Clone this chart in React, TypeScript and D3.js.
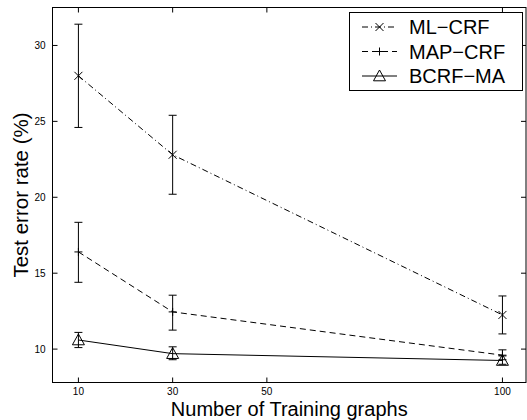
import React from 'react';
import * as d3 from 'd3';

// training set sizes
const trainSizes = [10, 30, 100];
const xTicks = [10, 30, 50, 100];
const yTicks = [10, 15, 20, 25, 30];

const seriesNames = ['ML\u2212CRF', 'MAP\u2212CRF', 'BCRF\u2212MA'];
const mlMean = [28.0, 22.8, 12.25];
const mlLow = [24.6, 20.2, 11.0];
const mlHigh = [31.4, 25.4, 13.5];
const mapMean = [16.4, 12.45, 9.6];
const mapLow = [14.4, 11.25, 9.3];
const mapHigh = [18.35, 13.55, 9.95];
const bcrfMean = [10.6, 9.7, 9.25];
const bcrfLow = [10.1, 9.3, 9.0];
const bcrfHigh = [11.1, 10.15, 9.55];

const FONT = '"Liberation Sans", Arial, Helvetica, sans-serif';

const Marker = ({kind, x, y}: {kind: string; x: number; y: number}) => {
    const s = 4;
    if (kind === 'x') {
        return <path d={`M${x-s},${y-s}L${x+s},${y+s}M${x-s},${y+s}L${x+s},${y-s}`} stroke="black" fill="none"/>;
    }
    if (kind === '+') {
        return <path d={`M${x-s},${y}L${x+s},${y}M${x},${y-s}L${x},${y+s}`} stroke="black" fill="none"/>;
    }
    const t = 6;
    return <path d={`M${x},${y-t}L${x+t},${y+t*0.8}L${x-t},${y+t*0.8}Z`} stroke="black" fill="none"/>;
};

const App = () => {
    const width = 527;
    const height = 420;
    const left = 52.5, right = 526, top = 7.5, bottom = 382.5;

    const x = d3.scaleLinear().domain([4.5, 105]).range([left, right]);
    const y = d3.scaleLinear().domain([7.8, 32.5]).range([bottom, top]);

    const series = [
        {name: seriesNames[0], mean: mlMean, low: mlLow, high: mlHigh, dash: '6,3,1,3', marker: 'x'},
        {name: seriesNames[1], mean: mapMean, low: mapLow, high: mapHigh, dash: '6,4', marker: '+'},
        {name: seriesNames[2], mean: bcrfMean, low: bcrfLow, high: bcrfHigh, dash: 'none', marker: '^'}
    ];

    const line = d3.line<number>()
        .x((d, i) => x(trainSizes[i]))
        .y(d => y(d));

    const tick = 5;
    const cap = 4;

    return (
        <svg width={width} height={height} style={{position: 'absolute', left: 0, top: 0, background: 'white'}}
             fontFamily={FONT}>
            <rect x={0} y={0} width={width} height={height} fill="white"/>
            {/* axes box */}
            <rect x={left} y={top} width={right-left} height={bottom-top} fill="none" stroke="black" strokeWidth={1}/>
            {xTicks.map(t => (
                <g key={'x'+t}>
                    <line x1={x(t)} x2={x(t)} y1={bottom} y2={bottom-tick} stroke="black"/>
                    <line x1={x(t)} x2={x(t)} y1={top} y2={top+tick} stroke="black"/>
                    <text x={x(t)} y={bottom+12.5} fontSize={10} textAnchor="middle">{t}</text>
                </g>
            ))}
            {yTicks.map(t => (
                <g key={'y'+t}>
                    <line x1={left} x2={left+tick} y1={y(t)} y2={y(t)} stroke="black"/>
                    <line x1={right} x2={right-tick} y1={y(t)} y2={y(t)} stroke="black"/>
                    <text x={left-7} y={y(t)+3.5} fontSize={10} textAnchor="end">{t}</text>
                </g>
            ))}
            <text x={(left+right)/2} y={415.5} fontSize={20} textAnchor="middle">Number of Training graphs</text>
            <text transform={`translate(28,${(top+bottom)/2}) rotate(-90)`} fontSize={20.5} textAnchor="middle">Test error rate (%)</text>

            {series.map(s => (
                <g key={s.name}>
                    <path d={line(s.mean) || ''} fill="none" stroke="black" strokeWidth={1} strokeDasharray={s.dash}/>
                    {trainSizes.map((t, i) => (
                        <g key={t}>
                            <line x1={x(t)} x2={x(t)} y1={y(s.low[i])} y2={y(s.high[i])} stroke="black"/>
                            <line x1={x(t)-cap} x2={x(t)+cap} y1={y(s.low[i])} y2={y(s.low[i])} stroke="black"/>
                            <line x1={x(t)-cap} x2={x(t)+cap} y1={y(s.high[i])} y2={y(s.high[i])} stroke="black"/>
                            <Marker kind={s.marker} x={x(t)} y={y(s.mean[i])}/>
                        </g>
                    ))}
                </g>
            ))}

            {/* legend */}
            <rect x={349.5} y={12.5} width={173} height={78} fill="white" stroke="black"/>
            {series.map((s, i) => {
                const ly = 27 + i * 24.5;
                return (
                    <g key={'lg'+s.name}>
                        <line x1={362} x2={397} y1={ly} y2={ly} stroke="black" strokeDasharray={s.dash}/>
                        <Marker kind={s.marker} x={379.5} y={ly}/>
                        <text x={409} y={ly+7} fontSize={20}>{s.name}</text>
                    </g>
                );
            })}
        </svg>
    );
};

export default App;
